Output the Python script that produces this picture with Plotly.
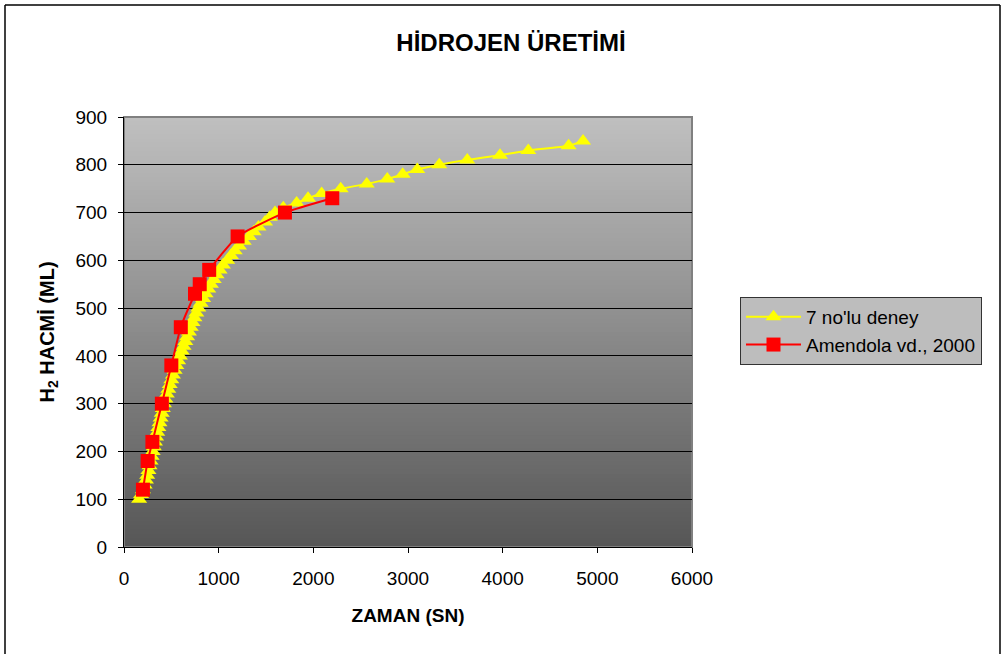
import plotly.graph_objects as go

# ---- data ----
deney_x = [160, 180, 200, 218, 232, 245, 258, 270, 281, 292,
           303, 315, 327, 339, 351, 363, 375, 387, 399, 410,
           422, 437, 452, 468, 483, 500, 517, 535, 553, 572,
           591, 610, 629, 648, 667, 686, 705, 724, 744, 764,
           785, 810, 836, 862, 890, 918, 948, 978, 1010, 1045,
           1090, 1130, 1170, 1215, 1265, 1320, 1370, 1420, 1490, 1540,
           1595, 1683, 1824, 1944, 2088, 2289, 2564, 2781, 2944, 3098,
           3331, 3626, 3972, 4271, 4697, 4849]
deney_y = [100, 110, 120, 130, 140, 150, 160, 170, 180, 190,
           200, 210, 220, 230, 240, 250, 260, 270, 280, 290,
           300, 310, 320, 330, 340, 350, 360, 370, 380, 390,
           400, 410, 420, 430, 440, 450, 460, 470, 480, 490,
           500, 510, 520, 530, 540, 550, 560, 570, 580, 590,
           600, 610, 620, 630, 640, 650, 660, 670, 680, 690,
           700, 710, 720, 730, 740, 750, 760, 770, 780, 790,
           800, 810, 820, 830, 840, 850]

amendola_x = [200, 250, 300, 400, 500, 600, 750, 800, 900, 1200, 1700, 2200]
amendola_y = [120, 180, 220, 300, 380, 460, 530, 550, 580, 650, 700, 730]

x_ticks = [0, 1000, 2000, 3000, 4000, 5000, 6000]
y_ticks = [0, 100, 200, 300, 400, 500, 600, 700, 800, 900]

# ---- layout constants ----
W, H = 1004, 654
ML, MR, MT, MB = 124, 312, 117, 107
PW, PH = W - ML - MR, H - MT - MB

def px_to_paper_x(px):
    return (px - ML) / PW

def px_to_paper_y(py):
    return (H - MB - py) / PH

fig = go.Figure()

fig.add_trace(go.Scatter(
    x=deney_x, y=deney_y, name="7 no'lu deney", mode="lines+markers",
    line=dict(color="#FFFF00", width=2, shape="spline", smoothing=0.6),
    marker=dict(symbol="triangle-up", size=14, color="#FFFF00"),
))
fig.add_trace(go.Scatter(
    x=amendola_x, y=amendola_y, name="Amendola vd., 2000", mode="lines+markers",
    line=dict(color="#FF0000", width=2, shape="spline", smoothing=0.5),
    marker=dict(symbol="square", size=14, color="#FF0000"),
))

shapes = []
# vertical gradient background of plot area (overlapping bands, no seams)
N = 100
top_c, bot_c = 192, 86
for i in range(N):
    t = (i + 0.5) / N
    c = int(round(bot_c + (top_c - bot_c) * t))
    shapes.append(dict(type="rect", xref="x domain", yref="y domain",
                       x0=0, x1=1, y0=i / N, y1=1,
                       fillcolor=f"rgb({c},{c},{c})", line=dict(width=0),
                       layer="below"))
# plot-area border
shapes.append(dict(type="rect", xref="x domain", yref="y domain",
                   x0=0, x1=1, y0=0, y1=1, line=dict(color="#808080", width=2),
                   fillcolor="rgba(0,0,0,0)", layer="below"))
# chart-area border (left, top, right)
bx0, bx1 = px_to_paper_x(5), px_to_paper_x(1000)
by_top, by_bot = px_to_paper_y(5), px_to_paper_y(670)
for (x0, y0, x1, y1) in [(bx0, by_bot, bx0, by_top), (bx0, by_top, bx1, by_top),
                         (bx1, by_top, bx1, by_bot)]:
    shapes.append(dict(type="line", xref="paper", yref="paper",
                       x0=x0, y0=y0, x1=x1, y1=y1,
                       line=dict(color="#000000", width=1.5)))

font_family = "Liberation Sans, Arial, sans-serif"

fig.update_layout(
    width=W, height=H,
    margin=dict(l=ML, r=MR, t=MT, b=MB),
    paper_bgcolor="white",
    plot_bgcolor="rgba(0,0,0,0)",
    font=dict(family=font_family, color="black", size=18),
    title=dict(text="<b>HİDROJEN ÜRETİMİ</b>", x=511 / W, xanchor="center",
               y=1 - 43 / H, yanchor="middle", yref="container",
               font=dict(size=24, family=font_family, color="black")),
    xaxis=dict(range=[0, 6000], tickvals=x_ticks, ticktext=[str(v) for v in x_ticks],
               showgrid=False, zeroline=False, showline=True, linecolor="black",
               linewidth=1, ticks="outside", ticklen=5, tickcolor="black",
               tickfont=dict(size=19), ticklabelstandoff=9,
               title=dict(text="<b>ZAMAN (SN)</b>", font=dict(size=19), standoff=20)),
    yaxis=dict(range=[0, 900], tickvals=y_ticks, ticktext=[str(v) for v in y_ticks],
               showgrid=True, gridcolor="black", gridwidth=1,
               zeroline=False, showline=True, linecolor="black",
               linewidth=1, ticks="outside", ticklen=5, tickcolor="black",
               tickfont=dict(size=19), ticklabelstandoff=7,
               title=dict(text="<b>H<sub>2</sub> HACMİ (ML)</b>", font=dict(size=20), standoff=15)),
    legend=dict(x=px_to_paper_x(740), y=px_to_paper_y(297), xanchor="left", yanchor="top",
                bgcolor="#bdbdbd", bordercolor="#333333", borderwidth=1,
                itemwidth=55,
                font=dict(size=19, color="black"), tracegroupgap=4),
    shapes=shapes,
)

fig.write_html("out.html")
